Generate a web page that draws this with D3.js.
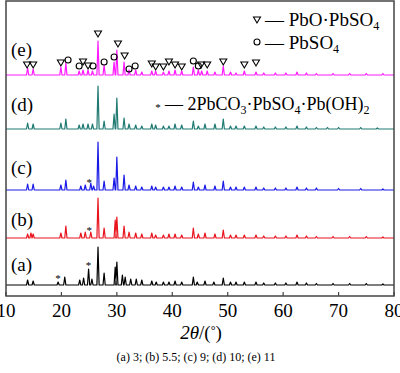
<!DOCTYPE html>
<html>
<head>
<meta charset="utf-8">
<script src="https://cdn.jsdelivr.net/npm/d3@7"></script>
<style>
  body { margin: 0; background: #fff; }
  text { font-family: "Liberation Serif", "Times New Roman", serif; }
</style>
</head>
<body>
<svg width="400" height="373" viewBox="0 0 400 373"></svg>
<script>
// data: peak positions (2theta) and heights (a.u.)
var peaksA = [[13.9,5],[14.9,4],[19.4,3],[20.6,8],[23.3,5],[24.0,7],[24.9,16],[25.5,6],[26.6,38],[27.7,12],
  [29.7,18],[30.0,23],[31.0,10],[31.5,8],[32.5,6],[33.5,6],[34.5,5],[36.3,4],[37.1,3],[38.4,3],[39.4,3],
  [40.5,4],[41.7,3],[43.8,8],[44.5,3],[45.9,4],[47.5,3],[49.2,7],[50.5,3],[51.5,3],[53.0,3],[55.1,3],
  [56.5,2],[58.6,2],[60.5,2],[62.5,3],[64.2,2],[66.0,1.5],[69.0,1.5],[72.0,1.5],[75.0,1.5],[78.0,1]];
var peaksB = [[13.9,4],[14.5,5],[14.9,4],[19.9,5],[20.8,12],[23.5,5],[24.3,6],[25.3,6],[26.6,40],[27.7,10],
  [29.7,18],[30.0,21],[31.3,12],[32.2,6],[33.4,5],[34.5,4],[36.3,5],[37.0,3],[38.4,3],[39.4,4],[40.5,4],
  [41.7,3],[43.8,10],[44.7,4],[45.9,5],[47.7,4],[49.2,8],[50.5,3],[51.5,3],[53.0,3],[55.1,3],[56.5,2],
  [58.6,2],[60.5,2],[62.5,3],[64.2,2],[66.0,1.5],[69.0,1.5],[72.0,1.5],[75.0,1.5],[78.0,1]];
var peaksC = [[13.9,6],[14.9,6],[19.9,5],[20.8,10],[23.5,4],[24.3,5],[25.3,7],[25.8,4],[26.6,48],[27.7,9],
  [29.5,12],[30.0,33],[31.3,15],[32.2,5],[33.4,4],[34.5,3],[36.3,4],[37.0,3],[38.4,3],[39.4,3],[40.5,4],
  [41.7,3],[43.8,8],[44.7,3],[45.9,5],[47.7,4],[49.2,9],[50.5,3],[51.5,3],[53.0,3],[55.1,3],[56.5,2],
  [58.6,2],[60.5,2],[62.5,3],[64.2,2],[66.0,2],[70.0,1.5],[74.0,1.5],[78.0,1]];
var peaksD = [[13.9,6],[14.9,5],[19.9,6],[20.8,10],[23.2,4],[23.9,5],[24.8,5],[25.6,5],[26.6,43],[27.7,8],
  [29.5,15],[30.0,31],[31.3,11],[32.2,5],[33.4,4],[34.5,3],[36.3,5],[37.0,4],[38.4,3],[39.4,3],[40.5,5],
  [41.7,4],[43.8,8],[44.7,3],[45.9,5],[47.7,5],[49.2,10],[50.5,3],[51.5,3],[53.0,3],[55.1,3],[56.5,2],
  [58.6,2],[60.5,2],[62.5,3],[64.2,2],[66.0,1.5],[68.0,1.5],[70.0,1.5],[74.0,1.5],[77.0,1]];
var peaksE = [[13.9,7],[14.9,6],[19.9,8],[20.8,12],[23.2,4],[23.9,5],[24.8,5],[25.6,4],[26.6,34],[27.7,10],
  [29.5,13],[30.0,25],[31.3,13],[32.2,5],[33.4,5],[34.5,3],[36.3,4],[37.0,4],[38.4,3],[39.4,4],[40.5,5],
  [41.7,4],[43.8,8],[44.7,5],[45.3,4],[46.3,4],[47.7,3],[49.2,9],[50.5,3],[51.5,2],[53.0,4],[55.1,3],
  [56.5,2],[58.6,2],[60.5,2],[62.5,3],[64.2,2],[66.0,1.5],[69.0,1.5],[72.0,1.5],[75.0,1.5],[78.0,1.5]];

var seriesNames = ["(a)", "(b)", "(c)", "(d)", "(e)"];
var seriesColors = ["#000000", "#e8141e", "#1a1ae6", "#1f7a72", "#ff1aff"];
var seriesOffsets = [11, 58, 106, 167, 221];
var seriesPeaks = [peaksA, peaksB, peaksC, peaksD, peaksE];

// markers on (e): [2theta, type, height above baseline]
var markersE = [[13.8,"t",10],[14.9,"t",10],[19.9,"t",12],[21.2,"c",15],[23.2,"c",9],[23.9,"t",13],
  [24.8,"t",9],[25.7,"c",9],[26.6,"t",41],[27.7,"c",13],[29.5,"c",18],[30.2,"t",31],[31.4,"t",19],
  [32.2,"c",6],[33.3,"c",9],[36.3,"t",11],[37.0,"t",8],[38.4,"t",8],[39.4,"t",13],[40.5,"t",10],
  [41.7,"t",8],[43.8,"c",14],[44.7,"c",9],[45.2,"t",10],[46.3,"t",10],[49.2,"t",13],[53.0,"t",10],[55.1,"t",12]];
// star markers: [series index, 2theta, height above baseline]
var starMarks = [[0,19.4,8],[0,24.9,21],[1,25.0,9],[2,25.0,9]];

var xTicks = [10, 20, 30, 40, 50, 60, 70, 80];
var captionText = "(a) 3; (b) 5.5; (c) 9; (d) 10; (e) 11";

var svg = d3.select("svg");
var pLeft = 6, pRight = 394, pTop = 1, pBottom = 296;

var x = d3.scaleLinear().domain([10, 80]).range([pLeft, pRight]);
var y = d3.scaleLinear().domain([0, 295]).range([pBottom, pTop]);

// build spike profile from a peak list
function profile(peaks, off) {
  var pts = [[10, off]];
  peaks.forEach(function(p) {
    pts.push([p[0] - 0.2, off]);
    pts.push([p[0], off + p[1]]);
    pts.push([p[0] + 0.2, off]);
  });
  pts.push([80, off]);
  return pts;
}

var line = d3.line().x(function(d) { return x(d[0]); }).y(function(d) { return y(d[1]); });

seriesPeaks.forEach(function(pk, i) {
  svg.append("path")
    .attr("d", line(profile(pk, seriesOffsets[i])))
    .attr("fill", "none")
    .attr("stroke", seriesColors[i])
    .attr("stroke-width", 1.2)
    .attr("stroke-linejoin", "round");
});

// series labels
var labelY = [271, 226, 174, 111, 56];
seriesNames.forEach(function(n, i) {
  svg.append("text").attr("x", 11).attr("y", labelY[i])
    .attr("font-size", 19).text(n);
});

function triangle(g, cx, cy) {
  g.append("path")
    .attr("d", "M" + (cx - 3.5) + "," + (cy - 3) + "L" + (cx + 3.5) + "," + (cy - 3) + "L" + cx + "," + (cy + 3) + "Z")
    .attr("fill", "none").attr("stroke", "#000").attr("stroke-width", 1.1);
}
function circ(g, cx, cy) {
  g.append("circle").attr("cx", cx).attr("cy", cy).attr("r", 3)
    .attr("fill", "none").attr("stroke", "#000").attr("stroke-width", 1.1);
}

var mk = svg.append("g");
markersE.forEach(function(m) {
  var cx = x(m[0]), cy = y(seriesOffsets[4] + m[2]);
  if (m[1] == "t") triangle(mk, cx, cy); else circ(mk, cx, cy);
});
starMarks.forEach(function(s) {
  mk.append("text").attr("x", x(s[1])).attr("y", y(seriesOffsets[s[0]] + s[2]) + 5)
    .attr("text-anchor", "middle").attr("font-size", 11).text("*");
});

// legend
triangle(svg, 257, 20);
circ(svg, 257, 42);
var l1 = svg.append("text").attr("x", 265).attr("y", 26).attr("font-size", 19);
l1.append("tspan").text("— PbO·PbSO");
l1.append("tspan").attr("font-size", 12).attr("dy", 4).text("4");
var l2 = svg.append("text").attr("x", 265).attr("y", 49).attr("font-size", 19);
l2.append("tspan").text("— PbSO");
l2.append("tspan").attr("font-size", 12).attr("dy", 4).text("4");
svg.append("text").attr("x", 158).attr("y", 111).attr("font-size", 11).attr("text-anchor", "middle").text("*");
var l3 = svg.append("text").attr("x", 165).attr("y", 110).attr("font-size", 18);
l3.append("tspan").text("— 2PbCO");
l3.append("tspan").attr("font-size", 12).attr("dy", 4).text("3");
l3.append("tspan").attr("dy", -4).text("·PbSO");
l3.append("tspan").attr("font-size", 12).attr("dy", 4).text("4");
l3.append("tspan").attr("dy", -4).text("·Pb(OH)");
l3.append("tspan").attr("font-size", 12).attr("dy", 4).text("2");

// frame
svg.append("rect").attr("x", pLeft).attr("y", pTop).attr("width", pRight - pLeft).attr("height", pBottom - pTop)
  .attr("fill", "none").attr("stroke", "#444").attr("stroke-width", 1.5);

// x axis ticks inward
svg.selectAll(".tk").data(xTicks).enter().append("line")
  .attr("x1", function(d) { return x(d); }).attr("x2", function(d) { return x(d); })
  .attr("y1", pBottom).attr("y2", pBottom - 4)
  .attr("stroke", "#444").attr("stroke-width", 1.2);
svg.selectAll(".tl").data(xTicks).enter().append("text")
  .attr("x", function(d) { return x(d); }).attr("y", 317)
  .attr("text-anchor", "middle").attr("font-size", 19)
  .text(function(d) { return d; });

// axis title
var t = svg.append("text").attr("x", 201).attr("y", 339).attr("text-anchor", "middle").attr("font-size", 19);
t.append("tspan").attr("font-style", "italic").text("2θ");
t.append("tspan").text("/(");
t.append("tspan").attr("font-size", 12).attr("dy", -5).text("°");
t.append("tspan").attr("dy", 5).text(")");

svg.append("text").attr("x", 196).attr("y", 361).attr("text-anchor", "middle")
  .attr("font-size", 12).text(captionText);
</script>
</body>
</html>
